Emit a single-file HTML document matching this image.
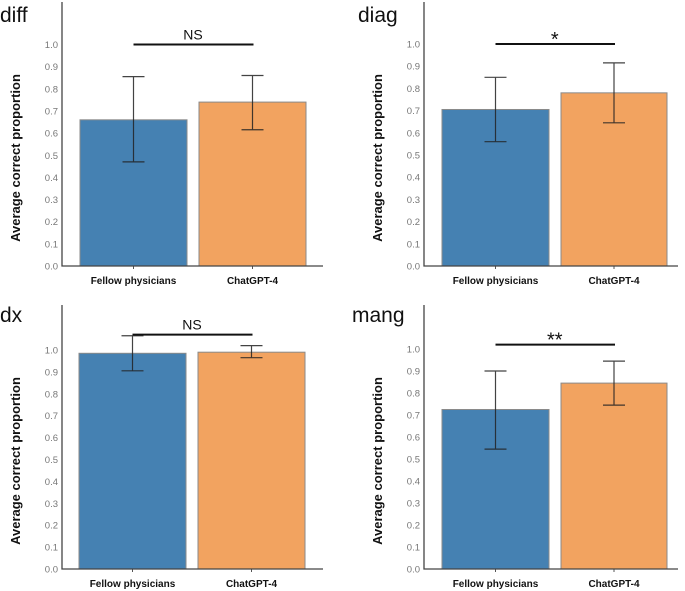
<!DOCTYPE html>
<html><head><meta charset="utf-8"><style>
body{margin:0;background:#fff;}
svg{display:block;font-family:"Liberation Sans",sans-serif;}
</style></head><body>
<svg id="chart" width="685" height="591" viewBox="0 0 685 591" xmlns="http://www.w3.org/2000/svg"></svg>
<script>
const panelNames = ["diff", "diag", "dx", "mang"];
const categories = ["Fellow physicians", "ChatGPT-4"];
const meanValues = [[0.66, 0.74], [0.705, 0.78], [0.985, 0.99], [0.725, 0.845]];
const errLow = [[0.47, 0.615], [0.56, 0.645], [0.905, 0.965], [0.545, 0.745]];
const errHigh = [[0.855, 0.86], [0.85, 0.915], [1.065, 1.02], [0.9, 0.945]];
const sigLabels = ["NS", "*", "NS", "**"];
const sigLevel = [1.0, 1.0, 1.07, 1.02];
const tickLabels = ["0.0","0.1","0.2","0.3","0.4","0.5","0.6","0.7","0.8","0.9","1.0"];
const tickValues = [0,0.1,0.2,0.3,0.4,0.5,0.6,0.7,0.8,0.9,1.0];

const layouts = [
  {ax:62, top:2, bottom:266, one:44.5, bars:[[80,187],[199,306]], end:323, titleX:0, titleY:22},
  {ax:424, top:2, bottom:266, one:44, bars:[[442,549],[561,667]], end:678, titleX:358, titleY:22},
  {ax:62, top:305, bottom:569, one:350, bars:[[79,186],[198,305]], end:323, titleX:0, titleY:322},
  {ax:424, top:305, bottom:569, one:349, bars:[[442,549],[561,667]], end:678, titleX:352, titleY:322}
];
const colors = ["#4581b2", "#f2a360"];
const NS = "http://www.w3.org/2000/svg";
const svg = document.getElementById('chart');
function mk(tag, attrs, parent, text){
  const e = document.createElementNS(NS, tag);
  for (const k in attrs) e.setAttribute(k, attrs[k]);
  if (text !== undefined) e.textContent = text;
  (parent||svg).appendChild(e);
  return e;
}
panelNames.forEach((name, p) => {
  const L = layouts[p];
  const y = v => L.bottom - v * (L.bottom - L.one);
  const g = mk('g', {});
  
  
  const t = mk('text', {x:L.titleX, y:L.titleY, 'font-size':21, fill:'#111'}, g, name);
  
  
  const yt = mk('text', {x:0, y:0, 'font-size':13, 'font-weight':'bold', fill:'#111', 'text-anchor':'middle', transform:`translate(${L.ax-42},${(L.top+L.bottom)/2+24}) rotate(-90)`}, g, 'Average correct proportion');
  
  
  tickValues.forEach((v, i) => {
    const tl = mk('text', {x:L.ax-4, y:y(v)+3.5, 'font-size':9.5, fill:'#777', 'text-anchor':'end'}, g, tickLabels[i]);
    
    
  });
  categories.forEach((c, i) => {
    const [x0, x1] = L.bars[i];
    const cx = (x0 + x1) / 2;
    const b = mk('rect', {x:x0, y:y(meanValues[p][i]), width:x1-x0, height:L.bottom-y(meanValues[p][i]), fill:colors[i], stroke:'#8a8a8a', 'stroke-width':1}, g);
    
    
    const eb = mk('path', {d:`M${cx},${y(errLow[p][i])}V${y(errHigh[p][i])}M${cx-11},${y(errLow[p][i])}H${cx+11}M${cx-11},${y(errHigh[p][i])}H${cx+11}`, stroke:'#222', 'stroke-width':1.2, fill:'none', 'stroke-opacity':0.85}, g);
    
    
    mk('line', {x1:cx, x2:cx, y1:L.bottom, y2:L.bottom+3, stroke:'#555'}, g);
    const xl = mk('text', {x:cx, y:L.bottom+18, 'font-size':10, 'font-weight':'bold', fill:'#111', 'text-anchor':'middle'}, g, c);
    
    
  });
  const ya = mk('path', {d:`M${L.ax},${L.top}V${L.bottom}H${L.end}`, stroke:'#444', 'stroke-width':1.3, fill:'none'}, g);
  
  
  const c0 = (L.bars[0][0]+L.bars[0][1])/2, c1 = (L.bars[1][0]+L.bars[1][1])/2;
  const sy = y(sigLevel[p]);
  const sl = mk('line', {x1:c0, x2:c1+1, y1:sy, y2:sy, stroke:'#111', 'stroke-width':2}, g);
  
  
  const st = mk('text', {x:(c0+c1)/2, y:sy-(sigLabels[p].includes('*')?-2:5), 'font-size':sigLabels[p].includes('*')?20:14, fill:'#111', 'text-anchor':'middle'}, g, sigLabels[p]);
  
  
});
</script>
</body></html>
